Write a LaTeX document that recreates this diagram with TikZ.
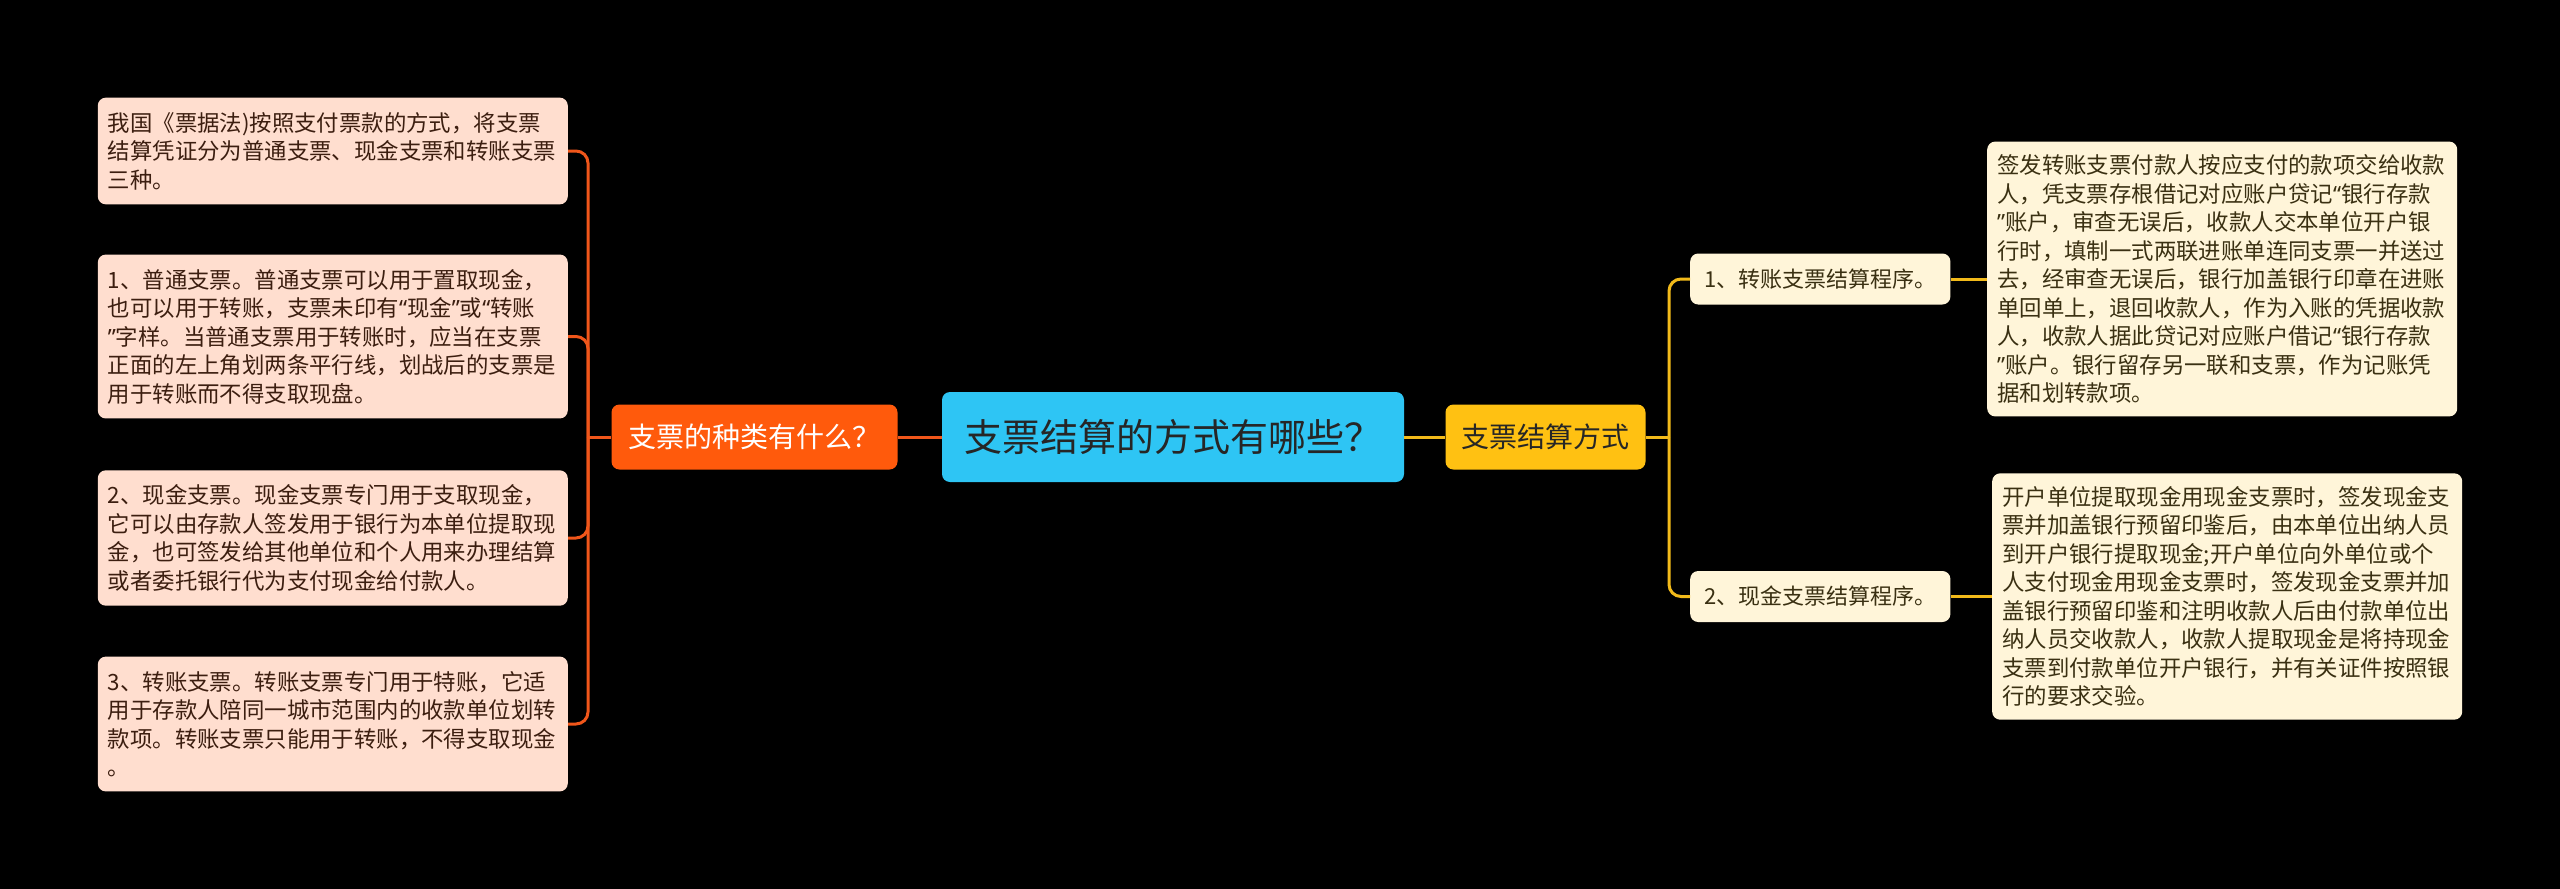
\documentclass[tikz,border=0pt]{standalone}
\usepackage{fontspec}
\newfontfamily\cjk{Noto Sans CJK SC}
\newfontfamily\quotefont{Noto Sans}
\newcommand\zhoq{{\quotefont “}}
\newcommand\zhcq{{\quotefont ”}}
\definecolor{rootfill}{HTML}{2EC5F4}
\definecolor{kindfill}{HTML}{FF5A0C}
\definecolor{wayfill}{HTML}{FFC112}
\definecolor{peach}{HTML}{FFDECF}
\definecolor{cream}{HTML}{FFF5D9}
\definecolor{peachtext}{HTML}{3C1E10}
\definecolor{creamtext}{HTML}{3A3012}
\definecolor{orangeline}{HTML}{F0561A}
\definecolor{yellowline}{HTML}{F2BA1A}
\begin{document}
\begin{tikzpicture}[x=1pt,y=-1pt,
    rootbox/.style={fill=rootfill,rounded corners=8pt,text=black!85,font=\cjk\fontsize{38}{44}\selectfont,minimum height=90pt,inner xsep=22pt},
    kindbox/.style={fill=kindfill,rounded corners=8pt,text=white,font=\cjk\fontsize{28}{34}\selectfont,minimum height=65pt,inner xsep=17pt},
    waybox/.style={fill=wayfill,rounded corners=8pt,text=black!85,font=\cjk\fontsize{28}{34}\selectfont,minimum height=65pt,inner xsep=16pt},
    stepsbox/.style={fill=cream,rounded corners=8pt,text=creamtext,font=\cjk\fontsize{22}{28}\selectfont,minimum height=51pt,inner xsep=14pt},
    peachleaf/.style={fill=peach,rounded corners=8pt,text=peachtext,font=\cjk\fontsize{22.4}{28.5}\selectfont,align=left,text width=450pt,inner xsep=10pt,inner ysep=14.5pt},
    creamleaf/.style={peachleaf,fill=cream,text=creamtext,inner ysep=13pt},
    oline/.style={draw=orangeline,line width=3pt,rounded corners=12pt},
    yline/.style={draw=yellowline,line width=3pt,rounded corners=12pt}]
    \fill[black] (0,0) rectangle (2560,889);
    \node[rootbox] (root) at (1173,437) {支票结算的方式有哪些？};
    \node[kindbox] (kind) at (754.5,437) {支票的种类有什么？};
    \node[waybox] (way) at (1545.5,437) {支票结算方式};
    \node[peachleaf,anchor=east] (k1) at (568,151) {我国《票据法)按照支付票款的方式，将支票\\结算凭证分为普通支票、现金支票和转账支票\\三种。};
    \node[peachleaf,anchor=east] (k2) at (568,336.5) {1、普通支票。普通支票可以用于置取现金，\\也可以用于转账，支票未印有\zhoq 现金\zhcq 或\zhoq 转账\\\zhcq 字样。当普通支票用于转账时，应当在支票\\正面的左上角划两条平行线，划战后的支票是\\用于转账而不得支取现盘。};
    \node[peachleaf,anchor=east] (k3) at (568,538) {2、现金支票。现金支票专门用于支取现金，\\它可以由存款人签发用于银行为本单位提取现\\金，也可签发给其他单位和个人用来办理结算\\或者委托银行代为支付现金给付款人。};
    \node[peachleaf,anchor=east] (k4) at (568,724) {3、转账支票。转账支票专门用于特账，它适\\用于存款人陪同一城市范围内的收款单位划转\\款项。转账支票只能用于转账，不得支取现金\\。};
    \node[stepsbox,anchor=west] (s1) at (1690,279) {1、转账支票结算程序。};
    \node[stepsbox,anchor=west] (s2) at (1690,596.5) {2、现金支票结算程序。};
    \node[creamleaf,anchor=west] (d1) at (1987,279) {签发转账支票付款人按应支付的款项交给收款\\人，凭支票存根借记对应账户贷记\zhoq 银行存款\\\zhcq 账户，审查无误后，收款人交本单位开户银\\行时，填制一式两联进账单连同支票一并送过\\去，经审查无误后，银行加盖银行印章在进账\\单回单上，退回收款人，作为入账的凭据收款\\人，收款人据此贷记对应账户借记\zhoq 银行存款\\\zhcq 账户。银行留存另一联和支票，作为记账凭\\据和划转款项。};
    \node[creamleaf,anchor=west] (d2) at (1992,596.5) {开户单位提取现金用现金支票时，签发现金支\\票并加盖银行预留印鉴后，由本单位出纳人员\\到开户银行提取现金;开户单位向外单位或个\\人支付现金用现金支票时，签发现金支票并加\\盖银行预留印鉴和注明收款人后由付款单位出\\纳人员交收款人，收款人提取现金是将持现金\\支票到付款单位开户银行，并有关证件按照银\\行的要求交验。};
    \coordinate (kj) at (588,437);
    \coordinate (wj) at (1669,437);
    \draw[oline] (root.west) -- (kind.east);
    \draw[oline] (kind.west) -- (kj);
    \foreach \k in {k1,k2,k3,k4}
        \draw[oline] (kj) |- (\k.east);
    \draw[yline] (root.east) -- (way.west);
    \draw[yline] (way.east) -- (wj);
    \draw[yline] (wj) |- (s1.west);
    \draw[yline] (wj) |- (s2.west);
    \draw[yline] (s1.east) -- (d1.west);
    \draw[yline] (s2.east) -- (d2.west);
\end{tikzpicture}
\end{document}
